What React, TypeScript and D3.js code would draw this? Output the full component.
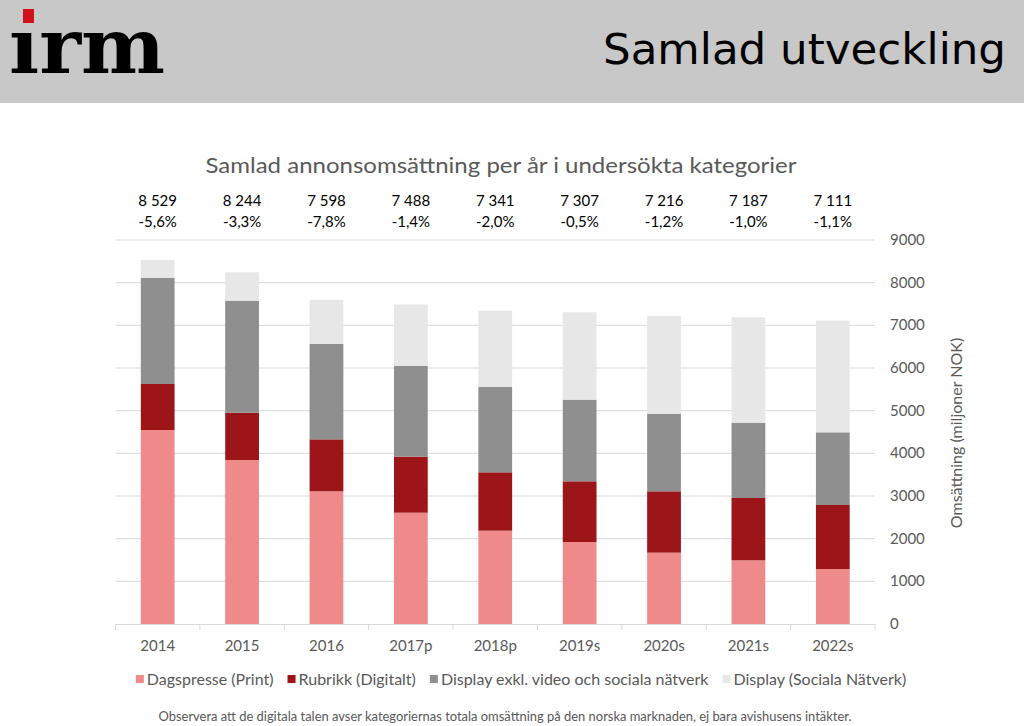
import React, { useEffect, useRef } from "react";
import * as d3 from "d3";

const categories = ["2014", "2015", "2016", "2017p", "2018p", "2019s", "2020s", "2021s", "2022s"];
const printValues = [4547, 3844, 3110, 2609, 2187, 1922, 1672, 1492, 1289];
const rubrikkValues = [1078, 1109, 1218, 1313, 1368, 1422, 1438, 1461, 1500];
const displayValues = [2485, 2625, 2235, 2125, 2000, 1914, 1819, 1765, 1703];
const socialValues = [419, 666, 1035, 1441, 1786, 2049, 2287, 2469, 2619];
const totals = [8529, 8244, 7598, 7488, 7341, 7307, 7216, 7187, 7111];
const changes = ["-5,6%", "-3,3%", "-7,8%", "-1,4%", "-2,0%", "-0,5%", "-1,2%", "-1,0%", "-1,1%"];
const seriesNames = ["Dagspresse (Print)", "Rubrikk (Digitalt)", "Display exkl. video och sociala nätverk", "Display (Sociala Nätverk)"];
const seriesColors = ["#EF8A8B", "#9B1519", "#8F8F8F", "#E7E7E7"];
const yTicks = [0, 1000, 2000, 3000, 4000, 5000, 6000, 7000, 8000, 9000];

const chartTitle = "Samlad annonsomsättning per år i undersökta kategorier";
const pageTitle = "Samlad utveckling";
const yTitle = "Omsättning (miljoner NOK)";
const footnote = "Observera att de digitala talen avser kategoriernas totala omsättning på den norska marknaden, ej bara avishusens intäkter.";

const W = 1024;
const H = 726;
const FONT = "Lato, 'Open Sans', sans-serif";
const GRAY_TEXT = "#595959";

export default function App() {
  const ref = useRef<SVGSVGElement | null>(null);

  useEffect(() => {
    document.body.style.margin = "0";
    const svg = d3.select(ref.current);
    svg.selectAll("*").remove();

    // header band
    svg.append("rect").attr("x", 0).attr("y", 0).attr("width", W).attr("height", 103).attr("fill", "#C8C8C8");
    svg.append("text")
      .attr("x", 9).attr("y", 73)
      .attr("font-family", "'DejaVu Serif', 'Liberation Serif', serif")
      .attr("font-weight", "bold")
      .attr("font-size", 76)
      .attr("textLength", 156)
      .attr("lengthAdjust", "spacingAndGlyphs")
      .attr("fill", "#000")
      .text("ırm");
    svg.append("rect").attr("x", 23).attr("y", 9).attr("width", 11).attr("height", 14).attr("fill", "#D0101A");
    svg.append("text")
      .attr("x", 1006).attr("y", 64)
      .attr("text-anchor", "end")
      .attr("font-family", "'DejaVu Sans', Verdana, sans-serif")
      .attr("font-size", 42)
      .attr("textLength", 403)
      .attr("lengthAdjust", "spacingAndGlyphs")
      .attr("fill", "#000")
      .text(pageTitle);

    const x = d3.scaleBand<string>().domain(categories).range([115.5, 875]).paddingInner(0.6).paddingOuter(0.3);
    const y = d3.scaleLinear().domain([0, 9000]).range([624, 240]);

    // gridlines
    svg.append("g").selectAll("line").data(yTicks.filter((t) => t > 0)).join("line")
      .attr("x1", 115.5).attr("x2", 875)
      .attr("y1", (d) => y(d)).attr("y2", (d) => y(d))
      .attr("stroke", "#D9D9D9").attr("stroke-width", 1);

    // stacked bars
    const rows = categories.map((c, i) => ({
      cat: c,
      s0: printValues[i],
      s1: rubrikkValues[i],
      s2: displayValues[i],
      s3: socialValues[i],
    }));
    const stack = d3.stack<any>().keys(["s0", "s1", "s2", "s3"]);
    const layers = stack(rows);
    svg.append("g").selectAll("g").data(layers).join("g")
      .attr("fill", (_d, i) => seriesColors[i])
      .selectAll("rect").data((d) => d).join("rect")
      .attr("x", (d: any) => x(d.data.cat) as number)
      .attr("width", x.bandwidth())
      .attr("y", (d) => y(d[1]))
      .attr("height", (d) => y(d[0]) - y(d[1]));

    // x axis line and ticks
    svg.append("line").attr("x1", 115.5).attr("x2", 875).attr("y1", 624.5).attr("y2", 624.5).attr("stroke", "#D9D9D9");
    const step = x.step();
    const tickXs = d3.range(categories.length + 1).map((i) => 115.5 + i * step);
    svg.append("g").selectAll("line").data(tickXs).join("line")
      .attr("x1", (d) => d).attr("x2", (d) => d)
      .attr("y1", 624).attr("y2", 630)
      .attr("stroke", "#D9D9D9");

    // x labels
    svg.append("g").selectAll("text").data(categories).join("text")
      .attr("x", (d) => (x(d) as number) + x.bandwidth() / 2)
      .attr("y", 651)
      .attr("text-anchor", "middle")
      .attr("font-family", FONT)
      .attr("font-size", 15)
      .attr("fill", GRAY_TEXT)
      .text((d) => d);

    // y labels (right)
    svg.append("g").selectAll("text").data(yTicks).join("text")
      .attr("x", 890)
      .attr("y", (d) => y(d) + 5)
      .attr("font-family", FONT)
      .attr("font-size", 15)
      .attr("fill", GRAY_TEXT)
      .text((d) => String(d));

    svg.append("text")
      .attr("transform", "translate(962,433) rotate(-90)")
      .attr("text-anchor", "middle")
      .attr("font-family", FONT)
      .attr("font-size", 16)
      .attr("fill", GRAY_TEXT)
      .text(yTitle);

    // chart title
    svg.append("text")
      .attr("x", 501).attr("y", 173)
      .attr("text-anchor", "middle")
      .attr("font-family", FONT)
      .attr("font-size", 22)
      .attr("textLength", 591)
      .attr("lengthAdjust", "spacingAndGlyphs")
      .attr("fill", GRAY_TEXT)
      .text(chartTitle);

    // totals and changes
    const loc = d3.formatLocale({ decimal: ",", thousands: " ", grouping: [3], currency: ["", ""] });
    const fmt = loc.format(",d");
    svg.append("g").selectAll("text").data(totals).join("text")
      .attr("x", (_d, i) => (x(categories[i]) as number) + x.bandwidth() / 2)
      .attr("y", 206)
      .attr("text-anchor", "middle")
      .attr("font-family", FONT)
      .attr("font-size", 15)
      .attr("fill", "#000")
      .text((d) => fmt(d));
    svg.append("g").selectAll("text").data(changes).join("text")
      .attr("x", (_d, i) => (x(categories[i]) as number) + x.bandwidth() / 2)
      .attr("y", 227)
      .attr("text-anchor", "middle")
      .attr("font-family", FONT)
      .attr("font-size", 15)
      .attr("fill", "#000")
      .text((d) => d);

    // legend
    const lg = svg.append("g");
    const items = lg.selectAll("g").data(seriesNames).join("g");
    items.append("rect").attr("width", 8).attr("height", 8).attr("y", -4).attr("fill", (_d, i) => seriesColors[i]);
    items.append("text")
      .attr("x", 11).attr("y", 5.5)
      .attr("font-family", FONT)
      .attr("font-size", 16)
      .attr("fill", GRAY_TEXT)
      .text((d) => d);
    let cx = 0;
    const widths: number[] = [];
    items.each(function () {
      const t = d3.select(this).select("text").node() as SVGTextElement;
      widths.push(11 + t.getComputedTextLength());
    });
    const gap = 14;
    const totalW = d3.sum(widths) + gap * (widths.length - 1);
    const startX = 521 - totalW / 2;
    items.attr("transform", (_d, i) => {
      const tx = startX + cx;
      cx += widths[i] + gap;
      return `translate(${tx},679)`;
    });

    // footnote
    svg.append("text")
      .attr("x", 505).attr("y", 721)
      .attr("text-anchor", "middle")
      .attr("font-family", FONT)
      .attr("font-size", 12.5)
      .attr("textLength", 693)
      .attr("lengthAdjust", "spacingAndGlyphs")
      .attr("fill", GRAY_TEXT)
      .text(footnote);
  }, []);

  return (
    <svg
      ref={ref}
      width={W}
      height={H}
      style={{ position: "absolute", left: 0, top: 0, background: "#fff" }}
    />
  );
}
